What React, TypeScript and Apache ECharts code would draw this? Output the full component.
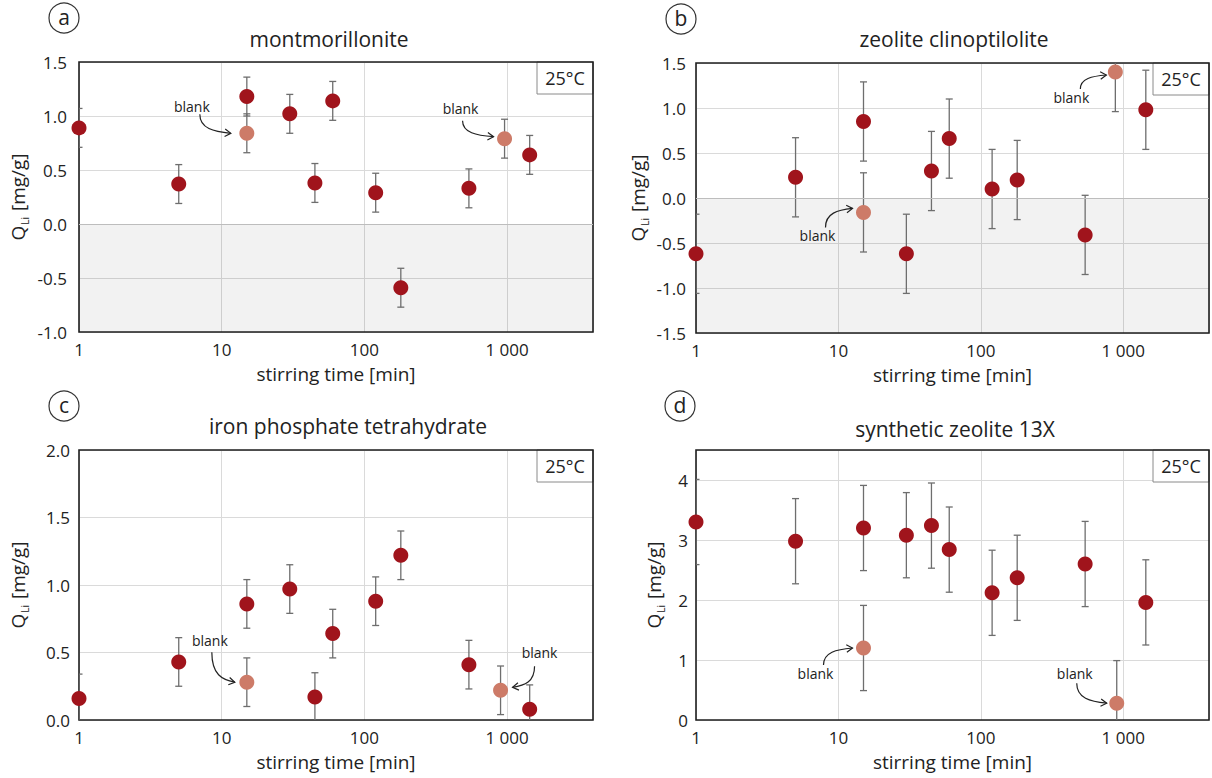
import React, { useEffect, useRef } from 'react';
import * as echarts from 'echarts';

const FONT = '"Open Sans", "Noto Sans", sans-serif';
const INK = '#222222';
const DOT = '#a0141c';
const BLANK_DOT = '#cd7b68';
const BAR = '#6e6e6e';
const GRID_LINE = '#dadada';

// stirring times [min]
const STIR_TIMES = [1, 5, 15, 30, 45, 60, 120, 180, 540, 1440];

// x tick values and their printed labels
const X_TICKS = [1, 10, 100, 1000];
const X_TICK_LABELS = ['1', '10', '100', '1 000'];

// (a) montmorillonite
const montQ = [0.89, 0.37, 1.18, 1.02, 0.38, 1.14, 0.29, -0.59, 0.33, 0.64];
const montErr = [0.18, 0.18, 0.18, 0.18, 0.18, 0.18, 0.18, 0.18, 0.18, 0.18];
const montBlankT = [15, 960];
const montBlankQ = [0.84, 0.79];
const montBlankErr = [0.18, 0.18];

// (b) zeolite clinoptilolite
const clinoQ = [-0.62, 0.23, 0.85, -0.62, 0.3, 0.66, 0.1, 0.2, -0.41, 0.98];
const clinoErr = [0.44, 0.44, 0.44, 0.44, 0.44, 0.44, 0.44, 0.44, 0.44, 0.44];
const clinoBlankT = [15, 880];
const clinoBlankQ = [-0.16, 1.4];
const clinoBlankErr = [0.44, 0.44];

// (c) iron phosphate tetrahydrate
const fePO4Q = [0.16, 0.43, 0.86, 0.97, 0.17, 0.64, 0.88, 1.22, 0.41, 0.08];
const fePO4Err = [0.18, 0.18, 0.18, 0.18, 0.18, 0.18, 0.18, 0.18, 0.18, 0.18];
const fePO4BlankT = [15, 900];
const fePO4BlankQ = [0.28, 0.22];
const fePO4BlankErr = [0.18, 0.18];

// (d) synthetic zeolite 13X
const z13xQ = [3.3, 2.98, 3.2, 3.08, 3.24, 2.84, 2.12, 2.37, 2.6, 1.96];
const z13xErr = [0.71, 0.71, 0.71, 0.71, 0.71, 0.71, 0.71, 0.71, 0.71, 0.71];
const z13xBlankT = [15, 900];
const z13xBlankQ = [1.2, 0.28];
const z13xBlankErr = [0.71, 0.71];

const TITLES = ['montmorillonite', 'zeolite clinoptilolite', 'iron phosphate tetrahydrate', 'synthetic zeolite 13X'];
const LETTERS = ['a', 'b', 'c', 'd'];
const Y_MIN = [-1, -1.5, 0, 0];
const Y_MAX = [1.5, 1.5, 2, 4.5];
const Y_STEP = [0.5, 0.5, 0.5, 1];
const Y_DIGITS = [1, 1, 1, 0];
const SHADE_BELOW_ZERO = [true, true, false, false];
const TEMPERATURE = '25°C';

const DATA = [
  { q: montQ, err: montErr, bt: montBlankT, bq: montBlankQ, berr: montBlankErr },
  { q: clinoQ, err: clinoErr, bt: clinoBlankT, bq: clinoBlankQ, berr: clinoBlankErr },
  { q: fePO4Q, err: fePO4Err, bt: fePO4BlankT, bq: fePO4BlankQ, berr: fePO4BlankErr },
  { q: z13xQ, err: z13xErr, bt: z13xBlankT, bq: z13xBlankQ, berr: z13xBlankErr },
];

// panel geometry (pixels)
const LAYOUT = [
  { grid: { left: 79, top: 62, width: 514, height: 270 }, title: [329, 39], letter: [64, 18], nameGap: 49, labelMargin: 12 },
  { grid: { left: 696, top: 63, width: 513, height: 270 }, title: [954, 39], letter: [681, 19], nameGap: 46, labelMargin: 10 },
  { grid: { left: 79, top: 450, width: 514, height: 270 }, title: [348, 426], letter: [64, 406], nameGap: 49, labelMargin: 9 },
  { grid: { left: 696, top: 450, width: 513, height: 270 }, title: [955, 429], letter: [680, 406], nameGap: 30, labelMargin: 8 },
];

// "blank" callouts: offsets from the blank point (text centre, arrow start, arrow end)
const CALLOUTS = [
  [
    { text: [-55, -27], from: [-47, -19], to: [-16, 0] },
    { text: [-44, -30], from: [-42, -18], to: [-11, -2] },
  ],
  [
    { text: [-46, 23], from: [-38, 15], to: [-11, -4] },
    { text: [-44, 25], from: [-35, 17], to: [-9, 3] },
  ],
  [
    { text: [-37, -42], from: [-35, -30], to: [-12, 0] },
    { text: [39, -38], from: [34, -24], to: [12, -3] },
  ],
  [
    { text: [-48, 25], from: [-40, 17], to: [-11, 0] },
    { text: [-42, -30], from: [-40, -20], to: [-10, 0] },
  ],
];

function xLabel(v: number): string {
  for (let k = 0; k < X_TICKS.length; k++) {
    if (Math.abs(v - X_TICKS[k]) < 1e-6 * X_TICKS[k]) return X_TICK_LABELS[k];
  }
  return '';
}

function errorBarItem(params: any, api: any) {
  const x = api.value(0);
  const lo = api.value(1);
  const hi = api.value(2);
  const top = api.coord([x, hi]);
  const bot = api.coord([x, lo]);
  const w = 3.5;
  const style = { stroke: BAR, lineWidth: 1.3 };
  return {
    type: 'group',
    children: [
      { type: 'line', shape: { x1: top[0], y1: top[1], x2: bot[0], y2: bot[1] }, style },
      { type: 'line', shape: { x1: top[0] - w, y1: top[1], x2: top[0] + w, y2: top[1] }, style },
      { type: 'line', shape: { x1: bot[0] - w, y1: bot[1], x2: bot[0] + w, y2: bot[1] }, style },
    ],
  };
}

function buildOption() {
  const grid: any[] = [];
  const xAxis: any[] = [];
  const yAxis: any[] = [];
  const series: any[] = [];

  DATA.forEach((d, i) => {
    const L = LAYOUT[i];
    grid.push({ ...L.grid, show: false, containLabel: false });
    xAxis.push({
      type: 'log',
      logBase: 10,
      gridIndex: i,
      min: 1,
      max: 4000,
      axisLine: { show: false },
      axisTick: { show: false },
      axisLabel: { formatter: (v: number) => xLabel(v), fontSize: 17, color: INK, fontFamily: FONT, margin: 9 },
      splitLine: { show: true, lineStyle: { color: GRID_LINE, width: 1 } },
      name: 'stirring time [min]',
      nameLocation: 'middle',
      nameGap: 32,
      nameTextStyle: { fontSize: 19, color: INK, fontFamily: FONT },
    });
    const digits = Y_DIGITS[i];
    yAxis.push({
      type: 'value',
      gridIndex: i,
      min: Y_MIN[i],
      max: Y_MAX[i],
      interval: Y_STEP[i],
      axisLine: { show: false },
      axisTick: { show: false },
      axisLabel: {
        formatter: (v: number) => {
          if (v > Y_MAX[i] - 1e-9 && Math.abs(v / Y_STEP[i] - Math.round(v / Y_STEP[i])) > 1e-6) return '';
          return v.toFixed(digits);
        },
        fontSize: 17,
        color: INK,
        fontFamily: FONT,
        margin: L.labelMargin,
      },
      splitLine: { show: true, lineStyle: { color: GRID_LINE, width: 1 } },
      name: '{q|Q}{s|Li}{q| [mg/g]}',
      nameLocation: 'middle',
      nameRotate: 90,
      nameGap: L.nameGap,
      nameTextStyle: {
        color: INK,
        fontFamily: FONT,
        rich: {
          q: { fontSize: 19, fontFamily: FONT, color: INK, lineHeight: 24 },
          s: { fontSize: 10, fontFamily: FONT, color: INK, padding: [13, 1, 0, 1] },
        },
      },
    });

    const bars: number[][] = [];
    STIR_TIMES.forEach((t, k) => bars.push([t, d.q[k] - d.err[k], d.q[k] + d.err[k]]));
    d.bt.forEach((t, k) => bars.push([t, d.bq[k] - d.berr[k], d.bq[k] + d.berr[k]]));

    const barSeries: any = {
      type: 'custom',
      name: 'error',
      xAxisIndex: i,
      yAxisIndex: i,
      renderItem: errorBarItem,
      encode: { x: 0, y: [1, 2] },
      data: bars,
      clip: true,
      z: 3,
      silent: true,
    };
    if (SHADE_BELOW_ZERO[i]) {
      barSeries.markArea = {
        silent: true,
        itemStyle: { color: 'rgba(0,0,0,0.05)' },
        data: [[{ yAxis: Y_MIN[i] }, { yAxis: 0 }]],
      };
      barSeries.markLine = {
        silent: true,
        symbol: 'none',
        label: { show: false },
        lineStyle: { color: '#bdbdbd', width: 1, type: 'solid' },
        data: [{ yAxis: 0 }],
      };
    }
    series.push(barSeries);

    series.push({
      type: 'scatter',
      name: 'sample',
      xAxisIndex: i,
      yAxisIndex: i,
      data: STIR_TIMES.map((t, k) => [t, d.q[k]]),
      symbol: 'circle',
      symbolSize: 15,
      itemStyle: { color: DOT, opacity: 1 },
      clip: false,
      z: 4,
    });
    series.push({
      type: 'scatter',
      name: 'blank',
      xAxisIndex: i,
      yAxisIndex: i,
      data: d.bt.map((t, k) => [t, d.bq[k]]),
      symbol: 'circle',
      symbolSize: 15,
      itemStyle: { color: BLANK_DOT, opacity: 1 },
      clip: false,
      z: 4,
    });
  });

  return {
    animation: false,
    backgroundColor: '#ffffff',
    textStyle: { fontFamily: FONT },
    grid,
    xAxis,
    yAxis,
    series,
  };
}

function arrowElements(fx: number, fy: number, tx: number, ty: number) {
  const c1x = fx;
  const c1y = fy + (ty - fy) * 0.75;
  const c2x = tx - (tx - fx) * 0.55;
  const c2y = ty - (ty - fy) * 0.08;
  const dx = tx - c2x;
  const dy = ty - c2y;
  const len = Math.hypot(dx, dy) || 1;
  const ux = dx / len;
  const uy = dy / len;
  const head = 7;
  const ang = (32 * Math.PI) / 180;
  const rot = (a: number) => [ux * Math.cos(a) - uy * Math.sin(a), ux * Math.sin(a) + uy * Math.cos(a)];
  const r1 = rot(ang);
  const r2 = rot(-ang);
  const stroke = { stroke: INK, lineWidth: 1.2, fill: 'none' };
  return [
    {
      type: 'bezierCurve',
      z: 20,
      shape: { x1: fx, y1: fy, cpx1: c1x, cpy1: c1y, cpx2: c2x, cpy2: c2y, x2: tx, y2: ty },
      style: stroke,
    },
    {
      type: 'polyline',
      z: 20,
      shape: {
        points: [
          [tx - head * r1[0], ty - head * r1[1]],
          [tx, ty],
          [tx - head * r2[0], ty - head * r2[1]],
        ],
      },
      style: stroke,
    },
  ];
}

function buildGraphics(chart: any) {
  const els: any[] = [];
  LAYOUT.forEach((L, i) => {
    const g = L.grid;
    const right = g.left + g.width;

    // panel letter in a circle
    els.push({
      type: 'circle',
      z: 20,
      shape: { cx: L.letter[0], cy: L.letter[1], r: 15 },
      style: { fill: 'none', stroke: '#333', lineWidth: 1.2 },
    });
    els.push({
      type: 'text',
      z: 20,
      x: L.letter[0],
      y: L.letter[1] - 1,
      style: { text: LETTERS[i], align: 'center', verticalAlign: 'middle', textAlign: 'center', textVerticalAlign: 'middle', fontSize: 21, fontFamily: FONT, fill: INK },
    });

    // panel title
    els.push({
      type: 'text',
      z: 20,
      x: L.title[0],
      y: L.title[1],
      style: { text: TITLES[i], align: 'center', verticalAlign: 'middle', textAlign: 'center', textVerticalAlign: 'middle', fontSize: 21, fontFamily: FONT, fill: INK },
    });

    // temperature box
    const bw = 56;
    const bh = 32;
    els.push({
      type: 'rect',
      z: 1,
      shape: { x: right - bw, y: g.top, width: bw, height: bh },
      style: { fill: '#ffffff', stroke: '#8a8a8a', lineWidth: 1 },
    });
    els.push({
      type: 'text',
      z: 1,
      x: right - bw / 2,
      y: g.top + bh / 2,
      style: { text: TEMPERATURE, align: 'center', verticalAlign: 'middle', textAlign: 'center', textVerticalAlign: 'middle', fontSize: 18, fontFamily: FONT, fill: INK },
    });

    // plot frame
    els.push({
      type: 'rect',
      z: 2,
      shape: { x: g.left, y: g.top, width: g.width, height: g.height },
      style: { fill: 'none', stroke: '#1e1e1e', lineWidth: 1.6 },
    });

    // "blank" callouts anchored to the blank points
    const d = DATA[i];
    d.bt.forEach((t, k) => {
      const p = chart.convertToPixel({ gridIndex: i }, [t, d.bq[k]]);
      if (!p) return;
      const c = CALLOUTS[i][k];
      els.push({
        type: 'text',
        z: 20,
        x: p[0] + c.text[0],
        y: p[1] + c.text[1],
        style: { text: 'blank', align: 'center', verticalAlign: 'middle', textAlign: 'center', textVerticalAlign: 'middle', fontSize: 14, fontFamily: FONT, fill: INK },
      });
      els.push(...arrowElements(p[0] + c.from[0], p[1] + c.from[1], p[0] + c.to[0], p[1] + c.to[1]));
    });
  });
  return els;
}

export default function App() {
  const ref = useRef<HTMLDivElement>(null);
  useEffect(() => {
    const el = ref.current;
    if (!el) return;
    const chart = echarts.init(el, null, { renderer: 'svg' });
    chart.setOption(buildOption() as any);
    chart.setOption({ graphic: { elements: buildGraphics(chart) } } as any);
    return () => {
      chart.dispose();
    };
  }, []);
  return <div ref={ref} style={{ position: 'absolute', left: 0, top: 0, width: 1212, height: 778, background: '#fff' }} />;
}
